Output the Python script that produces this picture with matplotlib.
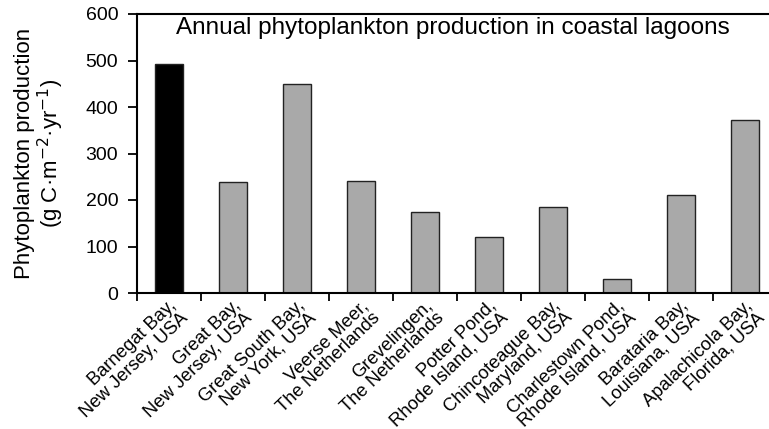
import matplotlib
matplotlib.use("Agg")
import matplotlib.pyplot as plt
import matplotlib.transforms as mtrans
import numpy as np

plt.rcParams['font.family'] = ['Liberation Sans', 'DejaVu Sans']

# lagoon names (two-line labels) and annual production, g C m-2 yr-1
lagoons = [
    "Barnegat Bay,\nNew Jersey, USA",
    "Great Bay,\nNew Jersey, USA",
    "Great South Bay,\nNew York, USA",
    "Veerse Meer,\nThe Netherlands",
    "Grevelingen,\nThe Netherlands",
    "Potter Pond,\nRhode Island, USA",
    "Chincoteague Bay,\nMaryland, USA",
    "Charlestown Pond,\nRhode Island, USA",
    "Barataria Bay,\nLouisiana, USA",
    "Apalachicola Bay,\nFlorida, USA",
]
production = [493, 238, 449, 240, 174, 120, 185, 30, 211, 372]
bar_colors = ["black"] + ["#a9a9a9"] * 9
y_ticks = [0, 100, 200, 300, 400, 500, 600]

fig = plt.figure(figsize=(7.69, 4.29), dpi=100)
ax = fig.add_axes([137 / 769, 136 / 429, 1 - 137 / 769, 279 / 429])

x = np.arange(len(lagoons))
ax.bar(x, production, width=0.43, color=bar_colors, edgecolor="#222222", linewidth=1.0)

ax.set_xlim(-0.5, 9.375)
ax.set_ylim(0, 600)
ax.set_yticks(y_ticks)
ax.tick_params(axis="y", direction="out", length=6.5, width=1.3, labelsize=14, pad=7)

# category labels at bar centres, tick marks between categories
ax.set_xticks(x)
ax.set_xticklabels(lagoons, rotation=44, ha="right", va="top",
                   rotation_mode="anchor", fontsize=13.2, linespacing=1.0)
ax.tick_params(axis="x", which="major", length=0, pad=3)
ax.set_xticks(np.arange(-0.5, 9.5, 1), minor=True)
ax.tick_params(axis="x", which="minor", direction="out", length=5.5, width=1.3)
shift = mtrans.ScaledTranslation(-1 / 100, 0, fig.dpi_scale_trans)
for lbl in ax.get_xticklabels():
    lbl.set_transform(lbl.get_transform() + shift)

for side in ["left", "bottom", "top"]:
    ax.spines[side].set_linewidth(1.5)
ax.spines["right"].set_visible(False)

ax.set_ylabel("Phytoplankton production\n(g C\u00b7m$^{-2}$\u00b7yr$^{-1}$)", fontsize=16,
              labelpad=14, linespacing=1.05)
ax.text(0.5, 0.95, "Annual phytoplankton production in coastal lagoons",
        transform=ax.transAxes, ha="center", va="center", fontsize=17.5)
fig.savefig("out.png", dpi=100)
